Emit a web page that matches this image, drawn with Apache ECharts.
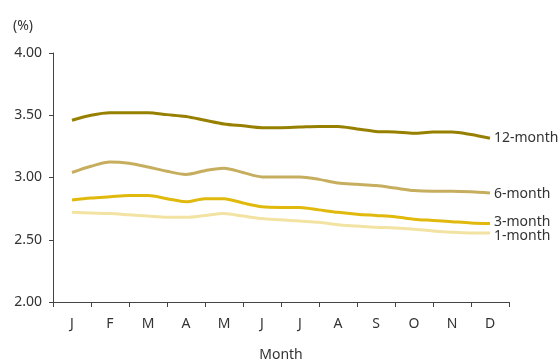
<!DOCTYPE html>
<html>
<head>
<meta charset="utf-8">
<script src="https://cdn.jsdelivr.net/npm/echarts@6/dist/echarts.min.js"></script>
<style>
  html, body { margin: 0; padding: 0; background: #fff; }
  #chart { width: 559px; height: 360px; }
</style>
</head>
<body>
<div id="chart"></div>
<script>
// Month labels on the category axis
const months = ['J', 'F', 'M', 'A', 'M', 'J', 'J', 'A', 'S', 'O', 'N', 'D'];

// Half-month positions (0 = January, 11 = December)
const positions = [0, 0.5, 1, 1.5, 2, 2.5, 3, 3.5, 4, 4.5, 5, 5.5, 6, 6.5, 7, 7.5, 8, 8.5, 9, 9.5, 10, 10.5, 11];

// Rates (%) by maturity, half-monthly
const rate12m = [3.46, 3.50, 3.52, 3.52, 3.52, 3.505, 3.49, 3.46, 3.43, 3.415, 3.40, 3.40, 3.405, 3.41, 3.41, 3.39, 3.37, 3.365, 3.355, 3.365, 3.365, 3.345, 3.315];
const rate6m  = [3.04, 3.09, 3.125, 3.115, 3.085, 3.05, 3.025, 3.055, 3.075, 3.04, 3.005, 3.005, 3.005, 2.985, 2.955, 2.945, 2.935, 2.915, 2.895, 2.89, 2.89, 2.885, 2.875];
const rate3m  = [2.82, 2.835, 2.845, 2.855, 2.855, 2.83, 2.805, 2.83, 2.83, 2.795, 2.765, 2.76, 2.76, 2.74, 2.72, 2.705, 2.695, 2.685, 2.665, 2.655, 2.645, 2.635, 2.63];
const rate1m  = [2.72, 2.715, 2.71, 2.70, 2.69, 2.68, 2.68, 2.695, 2.71, 2.69, 2.67, 2.66, 2.65, 2.64, 2.62, 2.61, 2.60, 2.595, 2.585, 2.57, 2.56, 2.555, 2.555];

const FONT = '"Noto Sans", "Open Sans", sans-serif';
const TXT = '#333';

function pairs(vals) {
  return vals.map((v, i) => [positions[i], v]);
}

function lineSeries(name, vals, color, offset) {
  return {
    name: name,
    type: 'line',
    xAxisIndex: 1,
    data: pairs(vals),
    smooth: 0.3,
    showSymbol: false,
    lineStyle: { color: color, width: 3 },
    endLabel: {
      show: true,
      formatter: name,
      color: TXT,
      fontFamily: FONT,
      fontSize: 14,
      distance: 4,
      offset: offset
    },
    emphasis: { disabled: true }
  };
}

const chart = echarts.init(document.getElementById('chart'), null, { renderer: 'canvas' });
chart.setOption({
  animation: false,
  grid: { left: 53, right: 50, top: 53, bottom: 58, containLabel: false, outerBoundsMode: 'none' },
  graphic: [{
    type: 'text', left: 13, top: 19,
    style: { text: '(%)', fill: TXT, font: '14px ' + FONT }
  }],
  xAxis: [{
    type: 'category',
    data: months,
    boundaryGap: true,
    name: 'Month',
    nameLocation: 'middle',
    nameGap: 46,
    nameTextStyle: { color: TXT, fontFamily: FONT, fontSize: 14 },
    axisLine: { onZero: false, lineStyle: { color: '#444', width: 1 } },
    axisTick: { show: true, length: 5, lineStyle: { color: '#444' } },
    axisLabel: { color: TXT, fontFamily: FONT, fontSize: 14, margin: 15 },
    splitLine: { show: false }
  }, {
    type: 'value',
    min: -0.5,
    max: 11.5,
    show: false
  }],
  yAxis: {
    type: 'value',
    min: 2,
    max: 4,
    interval: 0.5,
    axisLine: { show: true, onZero: false, lineStyle: { color: '#444', width: 1 } },
    axisTick: { show: true, length: 4, lineStyle: { color: '#444' } },
    axisLabel: {
      color: TXT, fontFamily: FONT, fontSize: 14, margin: 11,
      formatter: v => v.toFixed(2)
    },
    splitLine: { show: false }
  },
  series: [
    lineSeries('12-month', rate12m, '#978000', [0, 0]),
    lineSeries('6-month', rate6m, '#c6ae5e', [0, 1]),
    lineSeries('3-month', rate3m, '#e0b90c', [0, -2]),
    lineSeries('1-month', rate1m, '#f2e3a2', [0, 3])
  ]
});
</script>
</body>
</html>
